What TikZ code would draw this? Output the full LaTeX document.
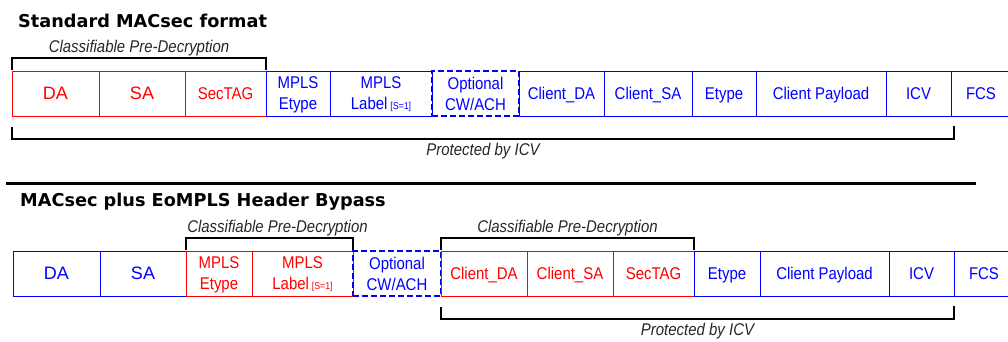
\documentclass[tikz,border=0pt]{standalone}
\usepackage{fontspec}
\setmainfont{Liberation Sans}
\newfontfamily\narrowfont[FakeStretch=0.88]{Liberation Sans}
\newfontfamily\headfont{DejaVu Sans}
\usetikzlibrary{positioning}

\newcommand\stackbit{{\fontsize{10}{10}\selectfont[S=1]}}

\begin{document}
\begin{tikzpicture}[
    x=1pt, y=1pt,
    field/.style={rectangle, draw, line width=1pt, inner sep=0pt, outer sep=0pt, minimum height=45pt, text depth=0pt, align=center, font=\narrowfont\fontsize{17}{21}\selectfont},
    redfield/.style={field, draw=red, text=red},
    bluefield/.style={field, draw=blue, text=blue},
    optfield/.style={bluefield, line width=2pt, dash pattern=on 6pt off 3pt},
    addr/.style={font=\fontsize{18}{21}\selectfont},
    heading/.style={anchor=base west, inner sep=0pt, font=\headfont\bfseries\fontsize{17.7}{20}\selectfont},
    bracket/.style={line width=1.5pt},
    note/.style={text=black!85, inner sep=0pt, font=\narrowfont\itshape\fontsize{17}{20}\selectfont}
]
    \useasboundingbox (0,0) rectangle (1008,-341);

    \node[heading] (title1) at (18,-27) {Standard MACsec format};

    \node[redfield, addr, minimum width=87pt, anchor=north west] (da1) at (12,-71) {DA};
    \node[redfield, addr, minimum width=86pt, right=0pt of da1] (sa1) {SA};
    \node[redfield, minimum width=81pt, right=0pt of sa1] (sec1) {SecTAG};
    \node[bluefield, minimum width=64pt, right=0pt of sec1] (etype1) {MPLS\\Etype};
    \node[bluefield, minimum width=102pt, right=0pt of etype1] (label1) {MPLS\\Label\,\stackbit};
    \node[optfield, minimum width=87pt, right=0pt of label1] (cw1) {Optional\\CW/ACH};
    \node[bluefield, minimum width=85pt, right=0pt of cw1] (cda1) {Client\_DA};
    \node[bluefield, minimum width=88pt, right=0pt of cda1] (csa1) {Client\_SA};
    \node[bluefield, minimum width=64pt, right=0pt of csa1] (ctype1) {Etype};
    \node[bluefield, minimum width=130pt, right=0pt of ctype1] (load1) {Client Payload};
    \node[bluefield, minimum width=65pt, right=0pt of load1] (icv1) {ICV};
    \node[bluefield, minimum width=60pt, right=0pt of icv1] (fcs1) {FCS};

    \draw[bracket] ([yshift=1pt]da1.north west) -- ++(0,12) -| ([yshift=1pt]sec1.north east) coordinate[pos=0.25] (cls1);
    \node[note, above=2pt of cls1] (clsnote1) {Classifiable Pre-Decryption};
    \draw[bracket] ([yshift=-11pt]da1.south west) -- ++(0,-12) -| ([xshift=3pt, yshift=-10pt]icv1.south east) coordinate[pos=0.25] (prot1);
    \node[note, below=4pt of prot1] (protnote1) {Protected by ICV};

    \draw[line width=3pt] (6,-183) -- (976,-183);

    \node[heading] (title2) at (20,-206) {MACsec plus EoMPLS Header Bypass};

    \node[bluefield, addr, minimum width=87pt, anchor=north west] (da2) at (13,-251) {DA};
    \node[bluefield, addr, minimum width=86pt, right=0pt of da2] (sa2) {SA};
    \node[redfield, minimum width=66pt, right=0pt of sa2] (etype2) {MPLS\\Etype};
    \node[redfield, minimum width=101pt, right=0pt of etype2] (label2) {MPLS\\Label\,\stackbit};
    \node[optfield, minimum width=88pt, right=0pt of label2] (cw2) {Optional\\CW/ACH};
    \node[redfield, minimum width=86pt, right=0pt of cw2] (cda2) {Client\_DA};
    \node[redfield, minimum width=86pt, right=0pt of cda2] (csa2) {Client\_SA};
    \node[redfield, minimum width=81pt, right=0pt of csa2] (sec2) {SecTAG};
    \node[bluefield, minimum width=66pt, right=0pt of sec2] (ctype2) {Etype};
    \node[bluefield, minimum width=129pt, right=0pt of ctype2] (load2) {Client Payload};
    \node[bluefield, minimum width=65pt, right=0pt of load2] (icv2) {ICV};
    \node[bluefield, minimum width=60pt, right=0pt of icv2] (fcs2) {FCS};

    \draw[bracket] ([yshift=1pt]etype2.north west) -- ++(0,12) -| ([yshift=1pt]label2.north east) coordinate[pos=0.25] (cls2);
    \node[note, above=2pt of cls2, xshift=8pt] (clsnote2) {Classifiable Pre-Decryption};
    \draw[bracket] ([yshift=1pt]cda2.north west) -- ++(0,12) -| ([yshift=1pt]sec2.north east) coordinate[pos=0.25] (cls3);
    \node[note, above=2pt of cls3] (clsnote3) {Classifiable Pre-Decryption};
    \draw[bracket] ([yshift=-11pt]cda2.south west) -- ++(0,-12) -| ([yshift=-10pt]icv2.south east) coordinate[pos=0.25] (prot2);
    \node[note, below=4pt of prot2] (protnote2) {Protected by ICV};
\end{tikzpicture}
\end{document}
